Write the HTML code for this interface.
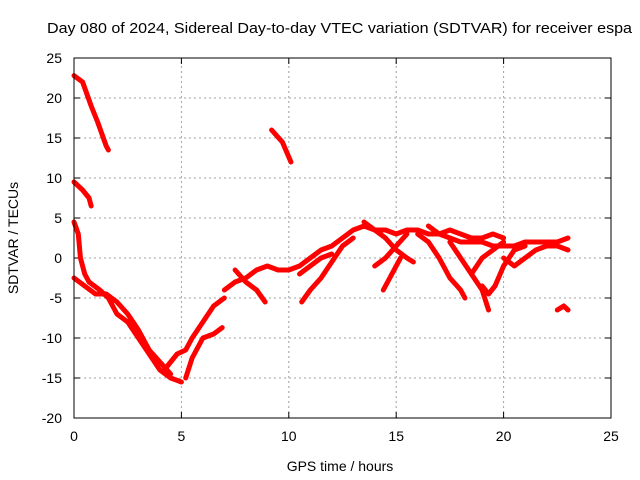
<!DOCTYPE html>
<html><head><meta charset="utf-8"><style>
body{margin:0;background:#fff;}
svg{display:block;font-family:"Liberation Sans",sans-serif;}
</style></head><body>
<svg id="chart" width="640" height="480" viewBox="0 0 640 480">
<rect width="640" height="480" fill="#fff"/>
<text x="47" y="33" font-size="15" textLength="585" lengthAdjust="spacingAndGlyphs">Day 080 of 2024, Sidereal Day-to-day VTEC variation (SDTVAR) for receiver espa</text>
<text x="340" y="471" font-size="14" text-anchor="middle">GPS time / hours</text>
<text transform="translate(18,238) rotate(-90)" font-size="14" text-anchor="middle">SDTVAR / TECUs</text>
<g id="grid"></g><g id="ticks"></g><g id="series"></g>
<rect x="74" y="58" width="537" height="360" fill="none" stroke="#000" stroke-width="1"/>
</svg>
<script>
const xTicks=[0,5,10,15,20,25];
const yTicks=[-20,-15,-10,-5,0,5,10,15,20,25];
const track1=[[0,22.8],[0.4,22],[0.8,19],[1.1,17],[1.5,14],[1.6,13.5]];
const track2=[[0,9.5],[0.4,8.5],[0.7,7.5],[0.8,6.5]];
const track3=[[9.2,16],[9.7,14.5],[10.1,12]];
const track4=[[0,4.5],[0.2,3],[0.3,0],[0.5,-2],[0.7,-3],[1.2,-4],[1.6,-5],[2,-7],[2.5,-8],[3,-10],[3.5,-12],[4,-14],[4.5,-15],[5,-15.5]];
const track5=[[0,-2.5],[0.5,-3.5],[1,-4.5],[1.5,-4.5],[2,-5.5],[2.5,-7],[3,-9],[3.5,-11.5],[4,-13],[4.5,-14.5]];
const track6=[[4.2,-14],[4.8,-12],[5.2,-11.5],[5.5,-10],[6,-8],[6.5,-6],[7,-5]];
const track7=[[5.2,-15],[5.5,-12.5],[6,-10],[6.5,-9.5],[6.9,-8.7]];
const track8=[[7,-4],[7.5,-3],[8,-2.5],[8.5,-1.5],[9,-1],[9.5,-1.5],[10,-1.5],[10.5,-1],[11,0],[11.5,1],[12,1.5],[12.5,2.5],[13,3.5],[13.5,4],[14,3.5],[14.5,3.5],[15,3],[15.5,3.5],[16,3.5],[16.5,3],[17,3],[17.5,2.5],[18,2],[18.5,2],[19,2],[19.5,1.5],[20,1.5],[20.5,1.5],[21,2],[21.5,2],[22,2],[22.5,2],[23,2.5]];
const track9=[[7.5,-1.5],[8,-3],[8.5,-4],[8.9,-5.5]];
const track10=[[10.6,-5.5],[11,-4],[11.5,-2.5],[12,-0.5],[12.5,1.5],[13,2.5]];
const track11=[[10.5,-2],[11,-1],[11.5,0],[12,0.5]];
const track12=[[13.5,4.5],[14,3.5],[14.5,2.5],[15,1],[15.5,0],[15.8,-0.5]];
const track13=[[14,-1],[14.5,0],[15,1.5],[15.5,3]];
const track14=[[14.4,-4],[14.8,-2],[15.2,0]];
const track15=[[16,3],[16.5,2],[17,0],[17.5,-2.5],[18,-4],[18.2,-5]];
const track16=[[17.5,2],[18,0],[18.5,-2],[19,-4],[19.3,-6.5]];
const track17=[[18.5,-2],[19,0],[19.5,1],[20,2]];
const track18=[[19,-3.5],[19.3,-4.5],[19.6,-3.5],[20,-1],[20.5,1],[21,1.5]];
const track19=[[20,0],[20.5,-1],[21,0],[21.5,1],[22,1.5],[22.5,1.5],[23,1]];
const track20=[[22.5,-6.5],[22.8,-6],[23,-6.5]];
const track21=[[16.5,4],[17,3],[17.5,3.5],[18,3],[18.5,2.5],[19,2.5],[19.5,3],[20,2.5]];
const tracks=[track1,track2,track3,track4,track5,track6,track7,track8,track9,track10,track11,track12,track13,track14,track15,track16,track17,track18,track19,track20,track21];
const NS="http://www.w3.org/2000/svg";
const X0=74,X1=611,Y0=418,Y1=58;
const xs=v=>X0+(v-0)/(25-0)*(X1-X0);
const ys=v=>Y0-(v+20)/(45)*(Y0-Y1);
const grid=document.getElementById('grid'),tk=document.getElementById('ticks'),ser=document.getElementById('series');
function mk(t,a,p){const e=document.createElementNS(NS,t);for(const k in a)e.setAttribute(k,a[k]);p.appendChild(e);return e;}
xTicks.forEach(v=>{
 const x=xs(v);
 if(v>0&&v<25){const g=mk('line',{x1:x,x2:x,y1:Y0,y2:Y1,stroke:'#a0a0a0','stroke-dasharray':'2,3'},grid);
 
 }
 mk('line',{x1:x,x2:x,y1:Y0,y2:Y0-6,stroke:'#000'},tk);
 mk('line',{x1:x,x2:x,y1:Y1,y2:Y1+6,stroke:'#000'},tk);
 const t=mk('text',{x:x,y:Y0+23,'font-size':14,'text-anchor':'middle'},tk);t.textContent=v;
 
 
});
yTicks.forEach(v=>{
 const y=ys(v);
 if(v>-20&&v<25){const g=mk('line',{x1:X0,x2:X1,y1:y,y2:y,stroke:'#a0a0a0','stroke-dasharray':'2,3'},grid);
 
 }
 mk('line',{x1:X0,x2:X0+6,y1:y,y2:y,stroke:'#000'},tk);
 mk('line',{x1:X1,x2:X1-6,y1:y,y2:y,stroke:'#000'},tk);
 const t=mk('text',{x:X0-12,y:y+5,'font-size':14,'text-anchor':'end'},tk);t.textContent=v;
 
 
});
tracks.forEach((tr,i)=>{
 const p=mk('polyline',{points:tr.map(d=>xs(d[0])+','+ys(d[1])).join(' '),fill:'none',stroke:'#ff0000','stroke-width':5,'stroke-linejoin':'round','stroke-linecap':'round'},ser);
 
 
});
</script>
</body></html>
